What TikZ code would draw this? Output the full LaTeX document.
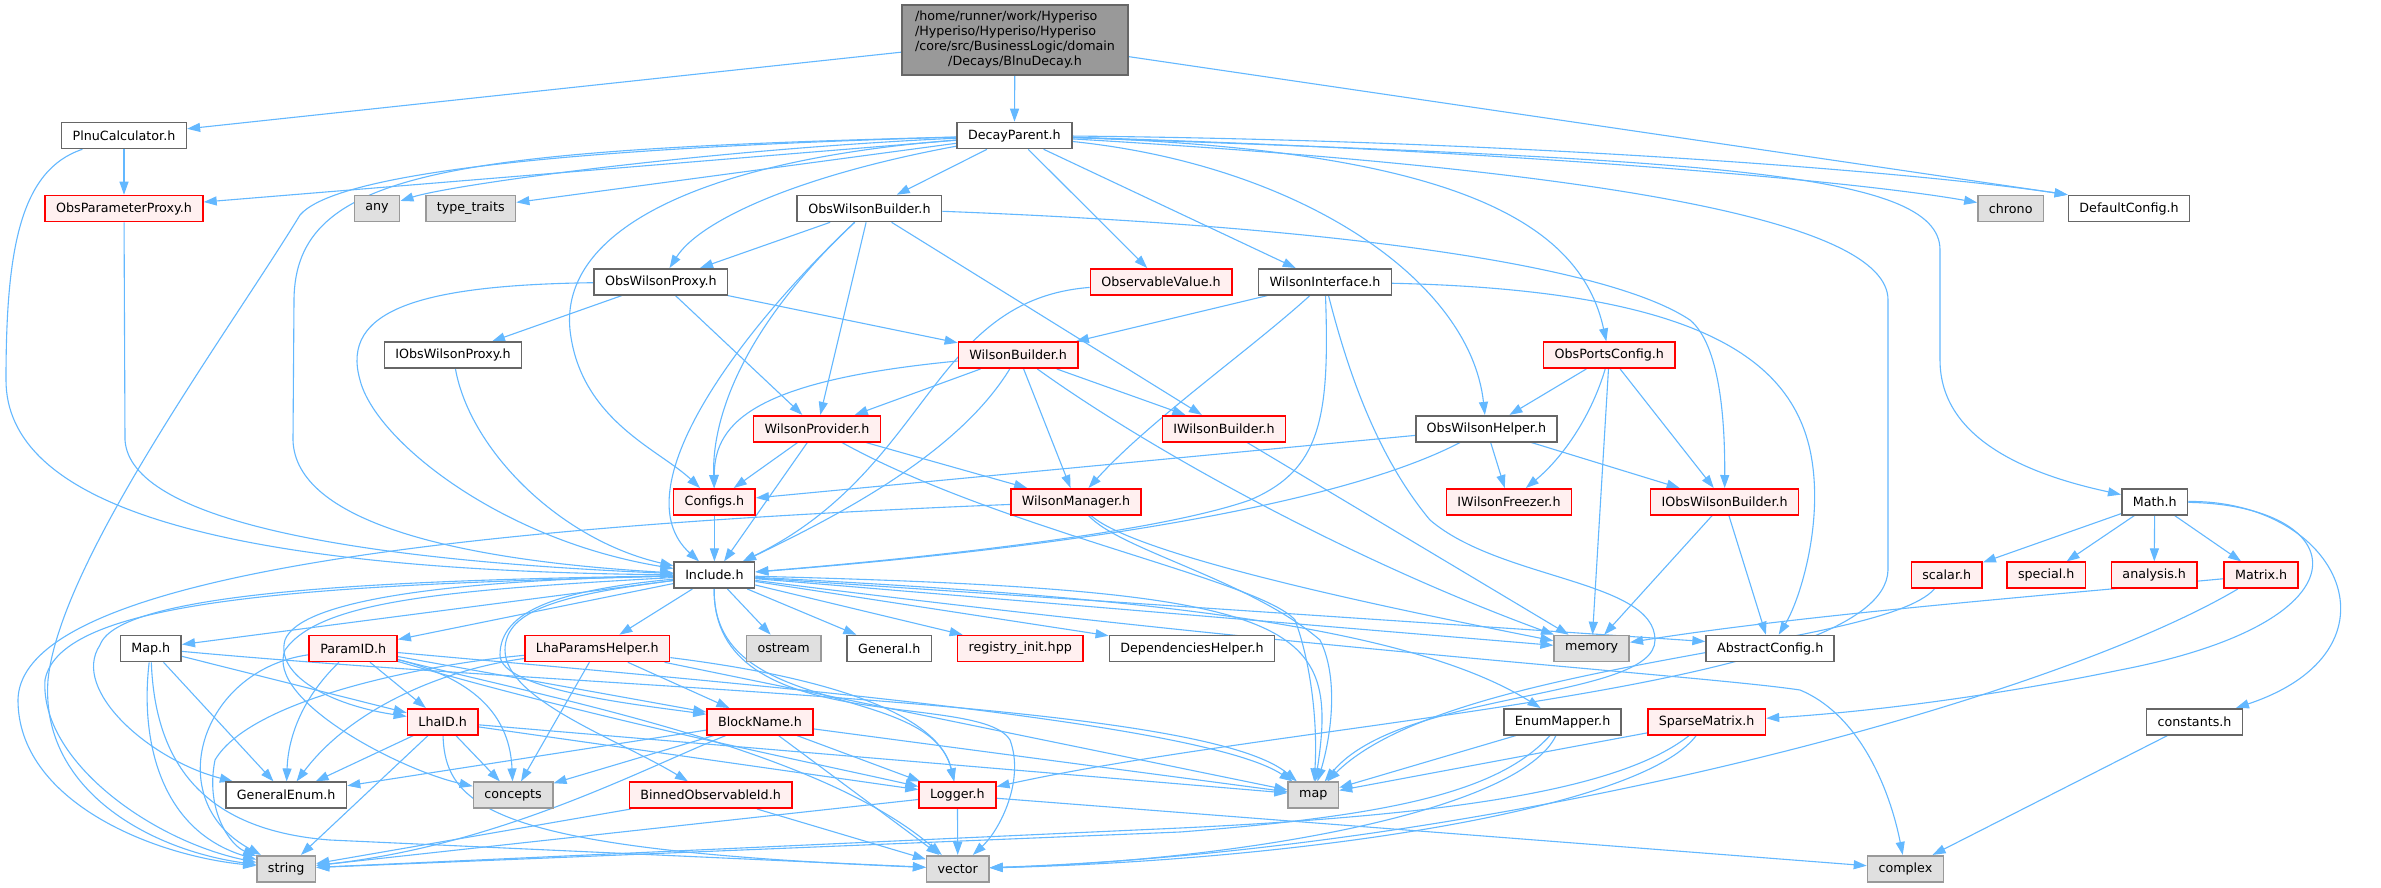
\documentclass[tikz,border=0pt]{standalone}
\usepackage{fontspec}
\setmainfont{DejaVu Sans}
\usetikzlibrary{arrows.meta}
\pgfdeclarelayer{bg}
\pgfsetlayers{bg,main}
\definecolor{ecol}{HTML}{63B8FF}
\definecolor{bgrey}{HTML}{666666}
\definecolor{sysfill}{HTML}{E0E0E0}
\definecolor{sysdraw}{HTML}{999999}
\definecolor{redfill}{HTML}{FFF0F0}
\definecolor{rootfill}{HTML}{999999}
\begin{document}
\begin{tikzpicture}[x=1pt,y=-1pt,
  nbox/.style={draw=bgrey, fill=white, line width=1.6pt, inner xsep=11pt, inner ysep=0pt, minimum height=26pt, font=\fontsize{12.7}{15}\selectfont, anchor=center},
  rbox/.style={nbox, draw=red, fill=redfill},
  gbox/.style={nbox, draw=sysdraw, fill=sysfill},
  ar/.style={draw=ecol, line width=1.1pt, -{Triangle[length=13pt,width=9pt]}}]
\useasboundingbox (0,0) rectangle (2381,887);
% nodes
\node[nbox, fill=rootfill, minimum width=226pt, minimum height=70pt, inner xsep=0pt] (root) at (1015,40) {\begin{tabular}{@{}l@{}}/home/runner/work/Hyperiso\\/Hyperiso/Hyperiso/Hyperiso\\/core/src/BusinessLogic/domain\\\multicolumn{1}{@{}c@{}}{/Decays/BlnuDecay.h}\end{tabular}};
\node[nbox] (plnu) at (124,135.5) {PlnuCalculator.h};
\node[nbox] (dp) at (1014.4,135.5) {DecayParent.h};
\node[rbox] (opp) at (124,208.5) {ObsParameterProxy.h};
\node[gbox] (any) at (377,208.5) {any};
\node[gbox] (tt) at (470.7,208.5) {type\_traits};
\node[nbox] (owb) at (869.4,208.5) {ObsWilsonBuilder.h};
\node[gbox] (chrono) at (2010.7,208.5) {chrono};
\node[nbox] (dc) at (2129,208.5) {DefaultConfig.h};
\node[nbox] (owp) at (660.8,281.8) {ObsWilsonProxy.h};
\node[rbox] (ov) at (1161,281.8) {ObservableValue.h};
\node[nbox] (wi) at (1325,281.8) {WilsonInterface.h};
\node[nbox] (iowp) at (453,355.2) {IObsWilsonProxy.h};
\node[rbox] (wb) at (1018.2,355.2) {WilsonBuilder.h};
\node[rbox] (opc) at (1609.3,355.2) {ObsPortsConfig.h};
\node[rbox] (wp) at (817,428.7) {WilsonProvider.h};
\node[rbox] (iwb) at (1224,428.7) {IWilsonBuilder.h};
\node[nbox] (owh) at (1486.4,428.7) {ObsWilsonHelper.h};
\node[rbox] (configs) at (714.4,501.8) {Configs.h};
\node[rbox] (wm) at (1076,501.8) {WilsonManager.h};
\node[rbox] (iwf) at (1509,501.8) {IWilsonFreezer.h};
\node[rbox] (iowb) at (1724.6,501.8) {IObsWilsonBuilder.h};
\node[nbox] (math) at (2154.7,501.8) {Math.h};
\node[nbox] (inc) at (714.4,575.2) {Include.h};
\node[rbox] (scalar) at (1946.7,575.2) {scalar.h};
\node[rbox] (special) at (2046.2,575.2) {special.h};
\node[rbox] (analysis) at (2154.2,575.2) {analysis.h};
\node[rbox] (matrix) at (2261.1,575.2) {Matrix.h};
\node[nbox] (maph) at (150.8,648.5) {Map.h};
\node[rbox] (paramid) at (353.2,648.5) {ParamID.h};
\node[rbox] (lph) at (597.3,648.5) {LhaParamsHelper.h};
\node[gbox] (ostream) at (783.7,648.5) {ostream};
\node[nbox] (general) at (889.3,648.5) {General.h};
\node[rbox] (reg) at (1020.2,648.5) {registry\_init.hpp};
\node[nbox] (deph) at (1192,648.5) {DependenciesHelper.h};
\node[gbox] (memory) at (1591.7,648.5) {memory};
\node[nbox] (ac) at (1770.2,648.5) {AbstractConfig.h};
\node[rbox] (lhaid) at (442.7,721.8) {LhaID.h};
\node[rbox] (bn) at (760,721.8) {BlockName.h};
\node[nbox] (em) at (1562.6,721.8) {EnumMapper.h};
\node[rbox] (sm) at (1706.6,721.8) {SparseMatrix.h};
\node[nbox] (constants) at (2194.5,721.8) {constants.h};
\node[nbox] (ge) at (286.2,795.2) {GeneralEnum.h};
\node[gbox] (concepts) at (513.1,795.2) {concepts};
\node[rbox] (boi) at (710.6,795.2) {BinnedObservableId.h};
\node[rbox] (logger) at (957.4,795.2) {Logger.h};
\node[gbox] (mapn) at (1313.3,795.2) {map};
\node[gbox] (string) at (286.2,868.7) {string};
\node[gbox] (vector) at (957.8,868.7) {vector};
\node[gbox] (complex) at (1905.4,868.7) {complex};
% edges
\begin{pgfonlayer}{bg}
\fill[white] (0,0) rectangle (2381,887);
% root
\draw[ar] (root) -- (plnu);
\draw[ar] (root) -- (dp);
\draw[ar] (root) -- (dc.north west);
% plnu
\draw[ar] (plnu) -- (opp);
\draw[ar] (plnu) .. controls (20,170) and (6,250) .. (6,380) .. controls (6,500) and (200,570) .. (inc);
% opp
\draw[ar] (opp) -- (125,440) .. controls (130,520) and (350,560) .. (inc);
% dp
\draw[ar] (dp) -- (opp);
\draw[ar] (dp) .. controls (700,150) and (450,185) .. (any);
\draw[ar] (dp) -- (tt);
\draw[ar] (dp) .. controls (500,150) and (330,180) .. (300,215) .. controls (230,330) and (60,560) .. (48,680) .. controls (40,790) and (150,850) .. (string);
\draw[ar] (dp) .. controls (450,150) and (295,170) .. (294,300) -- (293,440) .. controls (295,520) and (450,560) .. (inc);
\draw[ar] (dp) .. controls (700,160) and (560,230) .. (570,330) .. controls (580,420) and (660,450) .. (configs);
\draw[ar] (dp) .. controls (800,175) and (700,220) .. (owp);
\draw[ar] (dp) -- (owb);
\draw[ar] (dp) -- (ov);
\draw[ar] (dp) -- (wi);
\draw[ar] (dp) .. controls (1300,165) and (1470,280) .. (owh);
\draw[ar] (dp) .. controls (1450,150) and (1580,220) .. (opc);
\draw[ar] (dp) .. controls (1600,170) and (1888,220) .. (1888,300) -- (1888,570) .. controls (1885,690) and (1300,720) .. (logger);
\draw[ar] (dp) .. controls (1700,160) and (1940,170) .. (1940,250) -- (1940,360) .. controls (1940,440) and (2030,475) .. (math);
\draw[ar] (dp) .. controls (1500,150) and (1850,180) .. (chrono);
\draw[ar] (dp) .. controls (1500,140) and (1900,170) .. (dc.north west);
% owb
\draw[ar] (owb) -- (owp);
\draw[ar] (owb) .. controls (740,330) and (620,490) .. (inc);
\draw[ar] (owb) .. controls (740,330) and (712,420) .. (configs);
\draw[ar] (owb) -- (wp);
\draw[ar] (owb) -- (iwb);
\draw[ar] (owb) .. controls (1300,225) and (1600,260) .. (1690,320) .. controls (1720,345) and (1725,420) .. (iowb);
% owp
\draw[ar] (owp) -- (iowp);
\draw[ar] (owp) -- (wb);
\draw[ar] (owp) -- (wp);
\draw[ar] (owp) .. controls (420,285) and (340,310) .. (360,380) .. controls (375,440) and (500,540) .. (inc);
% iowp
\draw[ar] (iowp) .. controls (470,450) and (560,540) .. (inc);
% ov
\draw[ar] (ov) .. controls (930,300) and (930,470) .. (inc);
% wi
\draw[ar] (wi) -- (wb);
\draw[ar] (wi) .. controls (1250,350) and (1150,420) .. (wm);
\draw[ar] (wi) .. controls (1330,420) and (1320,470) .. (1250,500) .. controls (1150,535) and (900,560) .. (inc);
\draw[ar] (wi) .. controls (1350,380) and (1380,460) .. (1430,520) .. controls (1500,580) and (1655,580) .. (1655,640) .. controls (1655,700) and (1400,690) .. (mapn);
\draw[ar] (wi) .. controls (1700,290) and (1790,360) .. (1810,450) .. controls (1825,520) and (1800,600) .. (ac);
% wb
\draw[ar] (wb) -- (wp);
\draw[ar] (wb) .. controls (760,380) and (714,420) .. (configs);
\draw[ar] (wb) .. controls (960,450) and (850,510) .. (inc);
\draw[ar] (wb) -- (wm);
\draw[ar] (wb) -- (iwb);
\draw[ar] (wb) .. controls (1150,450) and (1350,560) .. (memory);
% wp
\draw[ar] (wp) -- (configs);
\draw[ar] (wp) -- (inc);
\draw[ar] (wp) -- (wm);
\draw[ar] (wp) .. controls (1000,530) and (1260,580) .. (1295,620) .. controls (1310,660) and (1318,720) .. (mapn);
% wm
\draw[ar] (wm) .. controls (500,525) and (20,570) .. (18,700) .. controls (18,800) and (150,855) .. (string);
\draw[ar] (wm) .. controls (1140,560) and (1450,620) .. (memory);
\draw[ar] (wm) .. controls (1120,550) and (1250,580) .. (1320,640) .. controls (1340,680) and (1330,740) .. (mapn);
% configs, iwb
\draw[ar] (configs) -- (inc);
\draw[ar] (iwb) -- (memory);
% opc
\draw[ar] (opc) -- (owh);
\draw[ar] (opc) .. controls (1590,420) and (1560,460) .. (iwf);
\draw[ar] (opc) -- (memory);
\draw[ar] (opc) -- (iowb);
% owh
\draw[ar] (owh) -- (configs);
\draw[ar] (owh) .. controls (1350,500) and (1100,545) .. (inc);
\draw[ar] (owh) -- (iwf);
\draw[ar] (owh) -- (iowb);
% iowb
\draw[ar] (iowb) -- (memory);
\draw[ar] (iowb) -- (ac);
% math
\draw[ar] (math) -- (scalar);
\draw[ar] (math) -- (special);
\draw[ar] (math) -- (analysis);
\draw[ar] (math) -- (matrix);
\draw[ar] (math) .. controls (2350,505) and (2380,620) .. (2120,670) .. controls (1950,705) and (1820,715) .. (sm);
\draw[ar] (math) .. controls (2340,500) and (2410,650) .. (constants);
% matrix, scalar, constants
\draw[ar] (matrix) .. controls (2050,595) and (1800,615) .. (memory);
\draw[ar] (matrix) .. controls (2050,700) and (1500,850) .. (vector);
\draw[ar] (scalar) .. controls (1880,650) and (1450,660) .. (mapn);
\draw[ar] (constants) -- (complex);
% sm, em
\draw[ar] (sm) -- (mapn);
\draw[ar] (sm) .. controls (1620,790) and (1450,815) .. (1180,828) -- (string);
\draw[ar] (sm) .. controls (1640,810) and (1300,860) .. (vector);
\draw[ar] (em) -- (mapn);
\draw[ar] (em) .. controls (1500,790) and (1400,815) .. (1180,832) -- (string);
\draw[ar] (em) .. controls (1520,810) and (1250,860) .. (vector);
% include
\draw[ar] (inc) -- (maph);
\draw[ar] (inc) -- (paramid);
\draw[ar] (inc) -- (lph);
\draw[ar] (inc) -- (ostream);
\draw[ar] (inc) -- (general);
\draw[ar] (inc) -- (reg);
\draw[ar] (inc) -- (deph);
\draw[ar] (inc) -- (memory);
\draw[ar] (inc) -- ([yshift=7pt]ac.west);
\draw[ar] (inc) .. controls (1100,595) and (1400,620) .. (em);
\draw[ar] (inc) .. controls (1300,650) and (1700,675) .. (1800,690) .. controls (1860,715) and (1890,790) .. (complex);
\draw[ar] (inc) .. controls (1300,590) and (1340,620) .. (mapn);
\draw[ar] (inc) .. controls (712,740) and (980,690) .. (1010,740) .. controls (1025,780) and (1000,830) .. (vector);
\draw[ar] (inc) .. controls (712,720) and (930,680) .. (logger);
\draw[ar] (inc) .. controls (300,585) and (60,600) .. (45,680) .. controls (40,760) and (150,840) .. (string);
\draw[ar] (inc) .. controls (450,580) and (300,600) .. (285,640) .. controls (275,675) and (330,705) .. (lhaid);
\draw[ar] (inc) .. controls (560,590) and (500,610) .. (500,655) .. controls (500,690) and (640,705) .. (bn);
\draw[ar] (inc) .. controls (560,595) and (505,610) .. (505,650) .. controls (505,700) and (620,740) .. (boi);
\draw[ar] (inc) .. controls (400,580) and (120,590) .. (100,645) .. controls (70,690) and (150,760) .. (ge);
\draw[ar] (inc) .. controls (450,590) and (320,600) .. (285,650) .. controls (265,700) and (400,770) .. (concepts);
% map.h
\draw[ar] (maph) -- (lhaid);
\draw[ar] (maph) -- (ge);
\draw[ar] (maph) .. controls (140,740) and (160,830) .. (string);
\draw[ar] (maph) .. controls (155,760) and (200,830) .. (330,840) -- (vector);
\draw[ar] (maph) .. controls (600,690) and (1200,700) .. (mapn);
% paramid
\draw[ar] (paramid) -- (lhaid);
\draw[ar] (paramid) .. controls (300,700) and (288,740) .. (ge);
\draw[ar] (paramid) .. controls (200,670) and (160,800) .. (string);
\draw[ar] (paramid) .. controls (480,680) and (510,720) .. (concepts);
\draw[ar] (paramid) -- (bn);
\draw[ar] (paramid) .. controls (600,720) and (800,760) .. (logger);
\draw[ar] (paramid) .. controls (700,680) and (1200,720) .. (mapn);
\draw[ar] (paramid) .. controls (560,700) and (820,750) .. (vector);
% lph
\draw[ar] (lph) .. controls (440,670) and (350,710) .. (ge);
\draw[ar] (lph) -- (concepts);
\draw[ar] (lph) -- (bn);
\draw[ar] (lph) .. controls (420,665) and (250,700) .. (215,760) .. controls (205,810) and (230,845) .. (string);
\draw[ar] (lph) .. controls (850,680) and (940,720) .. (logger);
\draw[ar] (lph) -- (mapn);
% lhaid
\draw[ar] (lhaid) -- (ge);
\draw[ar] (lhaid) -- (concepts);
\draw[ar] (lhaid) -- (string);
\draw[ar] (lhaid) .. controls (445,810) and (500,850) .. (vector);
\draw[ar] (lhaid) -- (logger);
\draw[ar] (lhaid) -- (mapn);
% bn
\draw[ar] (bn) -- (ge);
\draw[ar] (bn) -- (concepts);
\draw[ar] (bn) .. controls (640,770) and (500,845) .. (string);
\draw[ar] (bn) -- (vector);
\draw[ar] (bn) -- (logger);
\draw[ar] (bn) -- (mapn);
% boi, logger
\draw[ar] (boi) -- (string);
\draw[ar] (boi) -- (vector);
\draw[ar] (logger) -- (string);
\draw[ar] (logger) -- (vector);
\draw[ar] (logger) -- (complex);
\end{pgfonlayer}
\end{tikzpicture}
\end{document}
